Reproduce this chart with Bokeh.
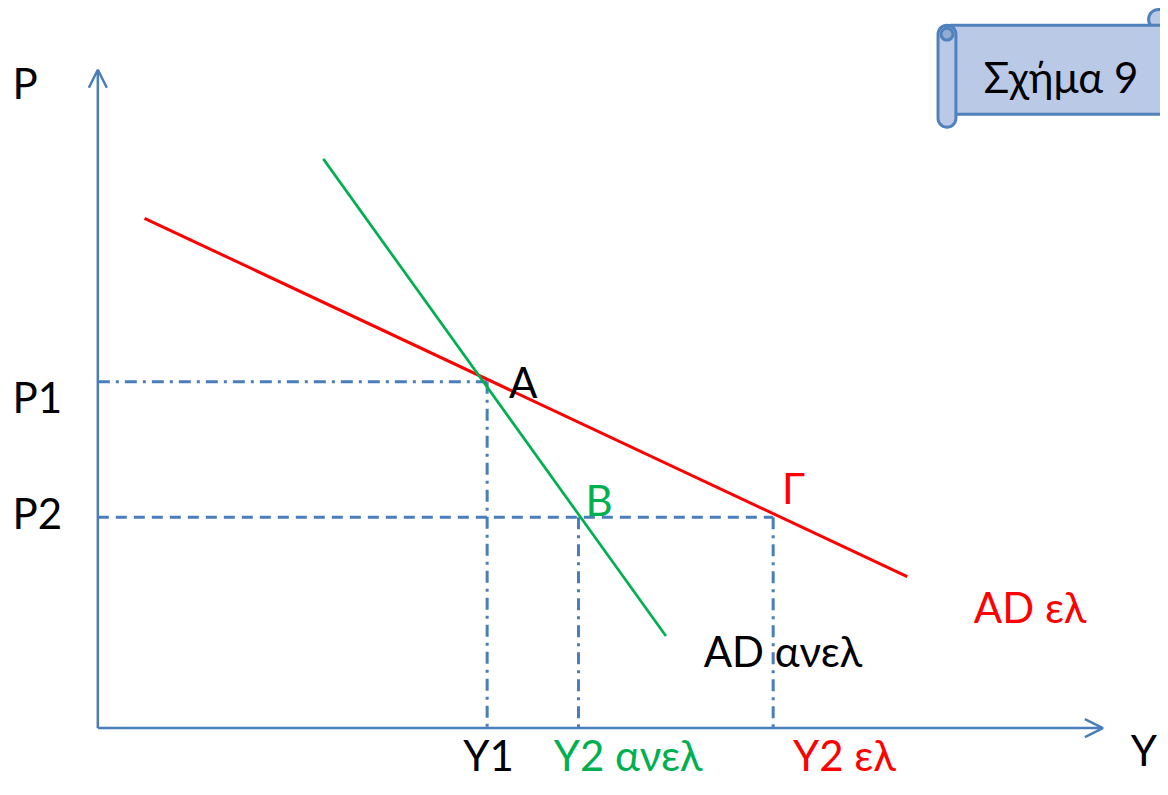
import numpy as np
from bokeh.plotting import figure
from bokeh.models import Range1d, Arrow, OpenHead
from bokeh.core.properties import value
from bokeh.embed import file_html
from bokeh.resources import INLINE

# ---- chart values (units measured from the axes' origin) ----
ad_el_x = [47, 815]          # AD ελ (elastic) curve end points
ad_el_y = [515, 153]
ad_anel_x = [227, 572]       # AD ανελ (inelastic) curve end points
ad_anel_y = [575, 93]
Y1 = 392
Y2_anel = 484
Y2_el = 680
P1 = 350
P2 = 213
y_axis_top = 665
x_axis_end = 1012

AXIS = "#4a7ebb"
RED = "#ff0000"
GREEN = "#00b050"
FONT = value("Lato")
TXT_SHIFT = 10   # compensation for the svg text baseline placement

p = figure(width=1160, height=787, x_range=Range1d(-98, 1070), y_range=Range1d(-60, 735),
           output_backend="svg", toolbar_location=None, min_border=0,
           x_axis_type=None, y_axis_type=None)
p.grid.visible = False
p.outline_line_color = None
p.background_fill_color = "white"
p.border_fill_color = "white"

# guide lines
dashdot = "12 6 3 6"
p.line([0, Y1], [P1, P1], line_color=AXIS, line_width=3, line_dash=dashdot)
p.line([Y1, Y1], [P1, 0], line_color=AXIS, line_width=3, line_dash=dashdot)
p.line([0, Y2_el], [P2, P2], line_color=AXIS, line_width=3, line_dash="11 7")
p.line([Y2_anel, Y2_anel], [P2, 0], line_color=AXIS, line_width=3, line_dash=dashdot)
p.line([Y2_el, Y2_el], [P2, 0], line_color=AXIS, line_width=3, line_dash=dashdot)

# AD curves
p.line(ad_el_x, ad_el_y, line_color=RED, line_width=3)
p.line(ad_anel_x, ad_anel_y, line_color=GREEN, line_width=2.7)

# axes with open arrow heads
p.add_layout(Arrow(end=OpenHead(size=18, line_color=AXIS, line_width=2.5),
                   x_start=0, y_start=0, x_end=0, y_end=y_axis_top,
                   line_color=AXIS, line_width=2.5))
p.add_layout(Arrow(end=OpenHead(size=18, line_color=AXIS, line_width=2.5),
                   x_start=0, y_start=0, x_end=x_axis_end, y_end=0,
                   line_color=AXIS, line_width=2.5))

# labels
def label(x, y, t, color="black", size="42px"):
    p.text(x=[x], y=[y + TXT_SHIFT], text=[t], text_color=color, text_font=FONT,
           text_font_size=value(size), text_align="left", text_baseline="alphabetic")

label(-86, 642, "P")
label(-86, P1 - 26, "P1")
label(-86, P2 - 6, "P2")
label(Y1 + 22, P1 - 10, "A")
label(Y2_anel + 7, P2 + 7, "B", GREEN)
label(Y2_el + 9, P2 + 20, "Γ", RED)
label(882, 112, "AD ελ", RED)
label(610, 68, "AD ανελ")
label(Y1 - 24, -37, "Y1")
label(Y2_anel - 25, -37, "Y2 ανελ", GREEN)
label(Y2_el + 20, -37, "Y2 ελ", RED)
label(1040, -32, "Y")

# scroll banner "Σχήμα 9"
def rrect(x0, x1, y0, y1, r, n=10):
    xs, ys = [], []
    corners = [(x1 - r, y1 - r, 0), (x0 + r, y1 - r, 90), (x0 + r, y0 + r, 180), (x1 - r, y0 + r, 270)]
    for cx, cy, a0 in corners:
        for a in np.linspace(np.radians(a0), np.radians(a0 + 90), n):
            xs.append(cx + r * np.cos(a))
            ys.append(cy + r * np.sin(a))
    return xs, ys

SCROLL_FILL = "#b9c9e6"
SCROLL_LINE = "#4f81bd"
p.circle(x=[1068], y=[716], radius=10, fill_color=SCROLL_FILL, line_color=SCROLL_LINE, line_width=3)
bx, by = rrect(857, 1110, 620, 710, 2)
p.patch(bx, by, fill_color=SCROLL_FILL, line_color=SCROLL_LINE, line_width=3)
lx, ly = rrect(846, 864, 607, 710, 9)
p.patch(lx, ly, fill_color=SCROLL_FILL, line_color=SCROLL_LINE, line_width=3)
p.circle(x=[855], y=[701], radius=6, fill_color="#95aad0", line_color=SCROLL_LINE, line_width=3)
label(892, 648, "Σχήμα 9")

open("out.html", "w").write(file_html(p, INLINE))
